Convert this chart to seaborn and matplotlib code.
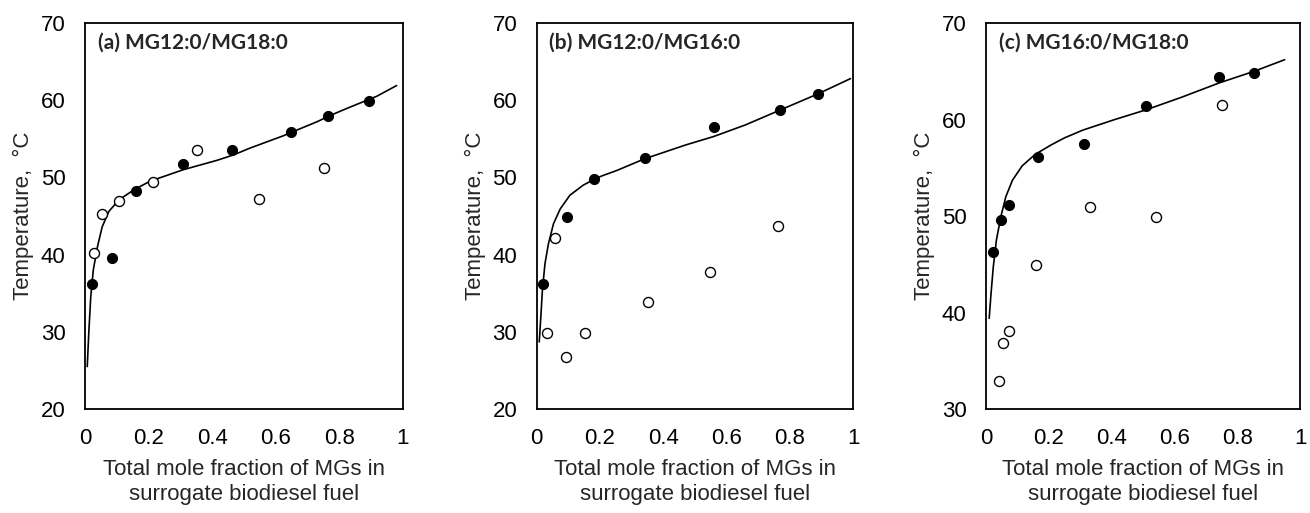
# Solid-liquid phase behaviour of binary MG mixtures in surrogate biodiesel
import numpy as np
import pandas as pd
import matplotlib
matplotlib.use("Agg")
import matplotlib.pyplot as plt
import seaborn as sns

# Panel (a) MG12:0/MG18:0
a_filled_x = [0.021, 0.085, 0.160, 0.308, 0.463, 0.647, 0.765, 0.892]
a_filled_t = [36.2, 39.6, 48.3, 51.7, 53.6, 55.9, 58.0, 59.9]
a_open_x = [0.028, 0.052, 0.108, 0.215, 0.352, 0.546, 0.753]
a_open_t = [40.2, 45.3, 47.0, 49.4, 53.6, 47.2, 51.2]
a_curve_x = [0.007, 0.012, 0.018, 0.026, 0.039, 0.054, 0.075, 0.107, 0.154,
             0.204, 0.309, 0.414, 0.466, 0.519, 0.624, 0.676, 0.729, 0.781,
             0.833, 0.917, 0.980]
a_curve_t = [25.5, 30.0, 34.5, 38.0, 41.0, 43.6, 45.6, 47.1, 48.4,
             49.5, 51.0, 52.2, 52.9, 53.8, 55.4, 56.3, 57.2, 58.2,
             59.1, 60.5, 61.9]

# Panel (b) MG12:0/MG16:0
b_filled_x = [0.021, 0.096, 0.180, 0.341, 0.560, 0.768, 0.888]
b_filled_t = [36.2, 44.9, 49.8, 52.5, 56.5, 58.7, 60.8]
b_open_x = [0.031, 0.059, 0.092, 0.151, 0.351, 0.548, 0.763]
b_open_t = [29.9, 42.2, 26.8, 29.9, 33.9, 37.7, 43.7]
b_curve_x = [0.008, 0.013, 0.018, 0.026, 0.037, 0.053, 0.074, 0.105, 0.147,
             0.179, 0.206, 0.253, 0.340, 0.470, 0.559, 0.659, 0.767, 0.887,
             0.991]
b_curve_t = [28.7, 31.9, 35.4, 38.8, 41.4, 44.0, 45.9, 47.7, 49.0,
             49.7, 50.2, 50.9, 52.4, 54.2, 55.3, 56.8, 58.7, 60.8,
             62.8]

# Panel (c) MG16:0/MG18:0
c_filled_x = [0.023, 0.049, 0.073, 0.164, 0.312, 0.508, 0.742, 0.853]
c_filled_t = [46.3, 49.6, 51.1, 56.1, 57.5, 61.4, 64.4, 64.8]
c_open_x = [0.041, 0.055, 0.073, 0.159, 0.330, 0.541, 0.752]
c_open_t = [32.9, 36.8, 38.1, 44.9, 50.9, 49.9, 61.5]
c_curve_x = [0.010, 0.016, 0.023, 0.033, 0.047, 0.063, 0.084, 0.115, 0.157,
             0.209, 0.250, 0.308, 0.410, 0.509, 0.622, 0.743, 0.854, 0.951]
c_curve_t = [39.4, 42.0, 44.7, 47.5, 49.9, 52.0, 53.7, 55.2, 56.4,
             57.4, 58.1, 58.9, 60.0, 61.0, 62.3, 63.8, 65.0, 66.2]

titles = ["(a) MG12:0/MG18:0", "(b) MG12:0/MG16:0", "(c) MG16:0/MG18:0"]
y_limits = [(20, 70), (20, 70), (30, 70)]
x_ticks = [0, 0.2, 0.4, 0.6, 0.8, 1]
x_tick_labels = ["0", "0.2", "0.4", "0.6", "0.8", "1"]

panels = [
    (a_filled_x, a_filled_t, a_open_x, a_open_t, a_curve_x, a_curve_t),
    (b_filled_x, b_filled_t, b_open_x, b_open_t, b_curve_x, b_curve_t),
    (c_filled_x, c_filled_t, c_open_x, c_open_t, c_curve_x, c_curve_t),
]

sns.set_style("white")
plt.rcParams['font.family'] = ['Liberation Sans', 'DejaVu Sans']

fig = plt.figure(figsize=(13.1, 5.13), dpi=100)
# axes boxes placed like the original layout
boxes = [
    [0.0649, 0.2027, 0.2427, 0.7524],
    [0.4097, 0.2027, 0.2417, 0.7524],
    [0.7527, 0.2027, 0.2397, 0.7524],
]

for box, title, ylim, (fx, ft, ox, ot, cx, ct) in zip(boxes, titles, y_limits, panels):
    ax = fig.add_axes(box)
    curve = pd.DataFrame({"x": cx, "t": ct})
    sns.lineplot(data=curve, x="x", y="t", ax=ax, color="black", lw=1.2,
                 sort=False, estimator=None)
    filled = pd.DataFrame({"x": fx, "t": ft})
    sns.scatterplot(data=filled, x="x", y="t", ax=ax, s=52, color="black",
                    edgecolor="black", linewidth=0.8, zorder=3)
    opened = pd.DataFrame({"x": ox, "t": ot})
    sns.scatterplot(data=opened, x="x", y="t", ax=ax, s=52, facecolor="white",
                    edgecolor="black", linewidth=1.0, zorder=3)

    ax.set_xlim(0, 1)
    ax.set_ylim(*ylim)
    ax.set_xticks(x_ticks)
    ax.set_xticklabels(x_tick_labels)
    ax.set_yticks(np.arange(ylim[0], ylim[1] + 1, 10))
    ax.tick_params(direction="in", length=5, width=1, labelsize=16,
                   colors="black", pad=14)
    for sp in ax.spines.values():
        sp.set_visible(True)
        sp.set_color("black")
        sp.set_linewidth(1.3)

    ax.set_xlabel("Total mole fraction of MGs in\nsurrogate biodiesel fuel",
                  fontsize=16, labelpad=7, linespacing=1.25)
    ax.set_ylabel("Temperature,  \u00b0C", fontsize=16, labelpad=5)
    ax.text(0.04, 0.975, title, transform=ax.transAxes, ha="left", va="top",
            fontsize=15, fontweight="bold", family=["Lato", "DejaVu Sans"])

fig.savefig("out.png", dpi=100)
